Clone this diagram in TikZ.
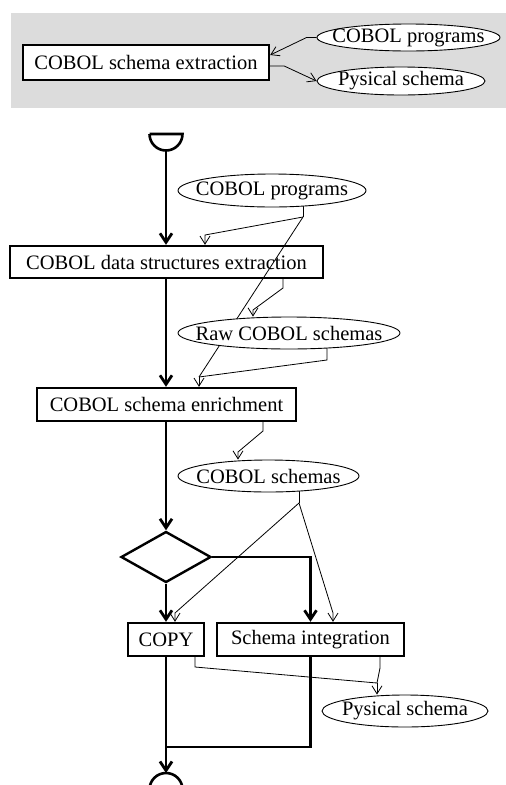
\documentclass[tikz,border=0pt]{standalone}
\usepackage{fontspec}
\setmainfont{Liberation Serif}
\usetikzlibrary{arrows.meta,shapes.geometric}
\pgfdeclarelayer{bg}
\pgfdeclarelayer{edges}
\pgfsetlayers{bg,edges,main}
\definecolor{panelgray}{RGB}{220,220,220}
% #1 name, #2 centre, #3 width, #4 height, #5 text
\newcommand{\prodnode}[5]{%
  \draw[ellpath] (#2) ellipse [x radius=#3/2, y radius=#4/2]
    node[txt,inner sep=0pt,minimum width=#3pt,minimum height=#4pt] (#1) {#5};}
\begin{document}
\begin{tikzpicture}[x=1pt,y=1pt,
  txt/.style={font=\fontsize{20.5}{24}\selectfont},
  procbox/.style={txt,draw,line width=2.4pt,inner sep=0pt,minimum height=33pt},
  ellpath/.style={draw,fill=white,line width=0.9pt},
  decision/.style={diamond,draw,line width=2.4pt,inner sep=0pt,minimum width=90pt,minimum height=51pt},
  flow/.style={line width=2.8pt,-{Straight Barb[length=9pt,width=12pt]}},
  flowline/.style={line width=2.8pt},
  datalink/.style={line width=0.8pt,-{Straight Barb[length=8pt,width=10pt]}},
  dataline/.style={line width=0.8pt}
]
\useasboundingbox (0,0) rectangle (506,-785);
\clip (0,0) rectangle (506,-785);

% top panel
\begin{pgfonlayer}{bg}
\fill[panelgray] (11,-13) rectangle (506,-108);
\end{pgfonlayer}
\node[procbox,fill=white,minimum width=246pt,minimum height=35pt] (tb) at (146,-62.5) {COBOL schema extraction};
\prodnode{tp}{408.5,-37.5}{183}{27}{COBOL programs}
\prodnode{tq}{401,-81}{168}{28}{Pysical schema}

% main flow nodes
\coordinate (s) at (166,-150.5);
\coordinate (e) at (166,-773);
\coordinate (j) at (166,-747);
\node[procbox,minimum width=313pt,minimum height=32pt] (dse) at (166.5,-262) {COBOL data structures extraction};
\prodnode{pr}{272,-190.5}{188}{33}{COBOL programs}
\prodnode{raw}{289,-333}{222}{32}{Raw COBOL schemas}
\node[procbox,minimum width=259pt,minimum height=33pt] (en) at (166.5,-404.5) {COBOL schema enrichment};
\prodnode{cs}{268.5,-476}{181}{32}{COBOL schemas}
\node[decision] (dia) at (166,-557) {};
\node[procbox,minimum width=76pt] (cp) at (166,-639.5) {COPY};
\node[procbox,minimum width=187pt] (in) at (310.5,-639.5) {Schema integration};
\prodnode{ph}{405,-711}{166}{32}{Pysical schema}

% start / end symbols
\draw[line width=2.6pt] (s) ++(-16.5,16.5) -- ++(33,0) arc[start angle=0,end angle=-180,radius=16.5pt];
\draw[line width=2.6pt] (e) ++(16.5,-16.5) arc[start angle=0,end angle=180,radius=16.5pt];

\begin{pgfonlayer}{edges}
% top panel links
\draw[datalink] (tp.west) -- ++(-10,0) -- (tb.east |- 0,-55);
\draw[datalink] (tb.east |- 0,-66) -- ++(14,0) -- (tq.west);

% control flow
\draw[flow] (s) -- (s |- dse.north);
\draw[flow] (dse.south -| s) -- (en.north -| s);
\draw[flow] (en.south -| s) -- (dia.north);
\draw[flow] (dia.south) -- (cp.north);
\draw[flow] (dia.east) -| (in.north);
\draw[flowline] (in.south) |- (j);
\draw[flow] (cp.south) -- (e);

% data flow
\coordinate (b1) at (303,-217);
\coordinate (m1) at (199,-377);
\coordinate (b2) at (299,-503);
\coordinate (m2) at (377,-683);
\draw[dataline] (pr.center -| b1) -- (b1);
\draw[datalink] (b1) -- (205,-235) -- (dse.north -| 205,0);
\draw[dataline] (b1) -- (m1);
\draw[dataline] (raw.center -| 327,0) -- (327,-360) -- (m1);
\draw[datalink] (m1) -- (en.north -| m1);
\draw[datalink] (dse.south -| 283,0) -- (283,-288) -- (253,-310) -- (raw.north -| 253,0);
\draw[datalink] (en.south -| 263,0) -- (263,-431) -- (238,-452) -- (cs.north -| 238,0);
\draw[dataline] (cs.center -| b2) -- (b2);
\draw[datalink] (b2) -- (175,-613) -- (cp.north -| 175,0);
\draw[datalink] (b2) -- (333,-613) -- (in.north -| 333,0);
\draw[dataline] (cp.south -| 195,0) -- (195,-667) -- (m2);
\draw[dataline] (in.south -| 380,0) -- (380,-668) -- (m2);
\draw[datalink] (m2) -- (ph.north -| m2);
\end{pgfonlayer}
\end{tikzpicture}
\end{document}
